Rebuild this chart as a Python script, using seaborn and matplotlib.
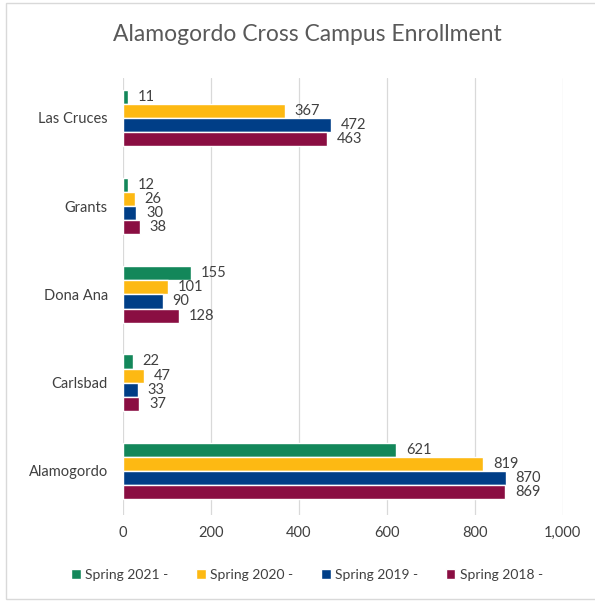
import seaborn as sns
import matplotlib.pyplot as plt
import pandas as pd
from matplotlib.patches import Rectangle

# Enrollment data
campuses = ['Las Cruces', 'Grants', 'Dona Ana', 'Carlsbad', 'Alamogordo']
terms = ['Spring 2021 -', 'Spring 2020 -', 'Spring 2019 -', 'Spring 2018 -']
spring_2021 = [11, 12, 155, 22, 621]
spring_2020 = [367, 26, 101, 47, 819]
spring_2019 = [472, 30, 90, 33, 870]
spring_2018 = [463, 38, 128, 37, 869]
colors = ['#13875A', '#FDB913', '#003E87', '#8A0E42']

rows = []
for term, vals in zip(terms, [spring_2021, spring_2020, spring_2019, spring_2018]):
    for campus, v in zip(campuses, vals):
        rows.append({'Campus': campus, 'Term': term, 'Enrollment': v})
df = pd.DataFrame(rows)

sns.set_style('white')
plt.rcParams['font.family'] = ['Lato', 'DejaVu Sans']

fig = plt.figure(figsize=(5.95, 6.01), dpi=100)
ax = fig.add_axes([0.207, 0.143, 0.739, 0.727])

sns.barplot(data=df, y='Campus', x='Enrollment', hue='Term', order=campuses,
            hue_order=terms, palette=colors, orient='h', width=0.64,
            saturation=1, ax=ax)

for cont in ax.containers:
    ax.bar_label(cont, padding=7, fontsize=10.5, color='#404040')

ax.set_xlim(0, 1000)
ax.set_ylim(4.5, -0.45)
ax.set_xticks(range(0, 1001, 200))
ax.set_xticklabels(['0', '200', '400', '600', '800', '1,000'])
ax.xaxis.grid(True, color='#D9D9D9', linewidth=0.9)
ax.set_axisbelow(True)
ax.set_xlabel('')
ax.set_ylabel('')
for s in ax.spines.values():
    s.set_visible(False)
ax.tick_params(axis='both', length=0, labelsize=10.5, colors='#404040', pad=8)
ax.tick_params(axis='y', pad=11)

fig.suptitle('Alamogordo Cross Campus Enrollment', x=0.516, y=0.96, fontsize=16.5,
             color='#595959')

handles, labels = ax.get_legend_handles_labels()
ax.get_legend().remove()
fig.legend(handles, labels, loc='center', bbox_to_anchor=(0.516, 0.043), ncol=4,
           frameon=False, fontsize=10, handlelength=0.7, handleheight=0.7,
           handletextpad=0.3, columnspacing=2.0, labelcolor='#404040')

# light border around the whole chart
fig.patches.append(Rectangle((0.01, 0.004), 0.995, 0.991, transform=fig.transFigure,
                             fill=False, edgecolor='#D9D9D9', linewidth=1))

fig.savefig('out.png', dpi=100)
